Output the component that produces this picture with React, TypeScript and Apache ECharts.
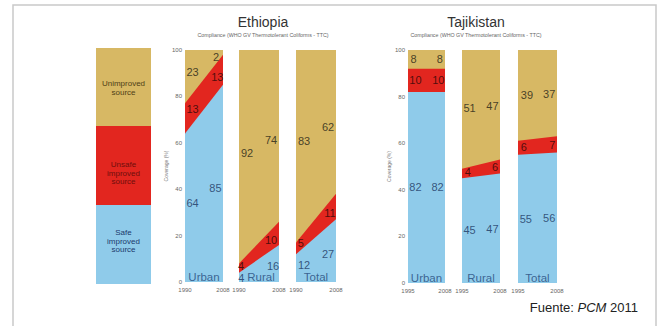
import React, { useEffect, useRef } from "react";
import * as echarts from "echarts";

// ---- Data ----
const panelNames = ["Urban", "Rural", "Total"];
const ethYears = [1990, 2008];
const tjkYears = [1995, 2008];
// [start, end] per panel: Urban, Rural, Total
const ethSafe = [[64, 85], [4, 16], [12, 27]];
const ethUnsafe = [[13, 13], [4, 10], [5, 11]];
const ethUnimproved = [[23, 2], [92, 74], [83, 62]];
const tjkSafe = [[82, 82], [45, 47], [55, 56]];
const tjkUnsafe = [[10, 10], [4, 6], [6, 7]];
const tjkUnimproved = [[8, 8], [51, 47], [39, 37]];
const yTicks = [0, 20, 40, 60, 80, 100];
const countries = ["Ethiopia", "Tajikistan"];
const subtitle = "Compliance (WHO GV Thermotolerant Coliforms - TTC)";
const legendLabels = ["Unimproved\nsource", "Unsafe\nimproved\nsource", "Safe\nimproved\nsource"];

// ---- Styles / layout ----
const COLORS: Record<string, string> = { safe: "#8fcbea", unsafe: "#e2261f", unimp: "#d7b864" };
const LABEL_COLORS: Record<string, string> = { safe: "#1b3560", unsafe: "#2a0707", unimp: "#222014" };
const PANELS = [
  { c: 0, p: 0, left: 185, width: 38 },
  { c: 0, p: 1, left: 239, width: 40 },
  { c: 0, p: 2, left: 296, width: 40 },
  { c: 1, p: 0, left: 408, width: 37 },
  { c: 1, p: 1, left: 462, width: 38 },
  { c: 1, p: 2, left: 518, width: 39 },
];
const TOP = 50;
const HEIGHT = 232;
// label horizontal fraction overrides: key c-p-band-side
const LABEL_F: Record<string, { f?: number; y?: number }> = {
  "0-0-unsafe-1": { f: 0.85 },
  "0-0-unimp-1": { f: 0.82 },
  "0-1-unsafe-0": { f: 0.05 },
  "0-1-safe-0": { f: 0.06, y: 1.8 },
  "0-1-safe-1": { f: 0.85 },
  "0-1-unsafe-1": { f: 0.8 },
  "0-2-unsafe-0": { f: 0.12 },
  "0-2-unsafe-1": { f: 0.85 },
  "1-0-unimp-0": { f: 0.15 },
  "1-0-unimp-1": { f: 0.86 },
  "1-0-unsafe-0": { f: 0.2 },
  "1-0-unsafe-1": { f: 0.82 },
  "1-1-unsafe-0": { f: 0.15 },
  "1-1-unsafe-1": { f: 0.87 },
  "1-2-unsafe-0": { f: 0.15 },
  "1-2-unsafe-1": { f: 0.88 },
  "1-2-unimp-0": { f: 0.23 },
};

function buildOption() {
  const grid: any[] = [];
  const xAxis: any[] = [];
  const yAxis: any[] = [];
  const series: any[] = [];

  PANELS.forEach((pn, i) => {
    const years = pn.c === 0 ? ethYears : tjkYears;
    const safe = (pn.c === 0 ? ethSafe : tjkSafe)[pn.p];
    const unsafe = (pn.c === 0 ? ethUnsafe : tjkUnsafe)[pn.p];
    const unimp = (pn.c === 0 ? ethUnimproved : tjkUnimproved)[pn.p];
    const first = pn.p === 0;
    grid.push({ left: pn.left, top: TOP, width: pn.width, height: HEIGHT + (pn.c === 1 ? 1 : 0) });
    xAxis.push({
      gridIndex: i,
      type: "value",
      min: years[0],
      max: years[1],
      splitLine: { show: false },
      axisLine: { show: false },
      axisTick: { show: false },
      axisLabel: {
        customValues: years,
        formatter: (v: number) => String(v),
        fontSize: 6,
        color: "#666",
        margin: 5,
        fontFamily: "Liberation Sans",
      },
    });
    yAxis.push({
      gridIndex: i,
      type: "value",
      min: 0,
      max: 100,
      interval: 20,
      show: first,
      splitLine: { show: false },
      axisLine: { show: false },
      axisTick: { show: false },
      axisLabel: { fontSize: 6, color: "#666", margin: 3, fontFamily: "Liberation Sans", customValues: yTicks },
      name: first ? "Coverage (%)" : "",
      nameLocation: "middle",
      nameRotate: 90,
      nameGap: 14,
      nameTextStyle: { fontSize: 5, color: "#777", fontFamily: "Liberation Sans" },
    });
    const bands = [
      { key: "safe", vals: safe },
      { key: "unsafe", vals: unsafe },
      { key: "unimp", vals: unimp },
    ];
    // cumulative tops, drawn from the top band down so lower bands overlay
    const cum: number[][] = [];
    let acc = [0, 0];
    bands.forEach((b) => {
      acc = [acc[0] + b.vals[0], acc[1] + b.vals[1]];
      cum.push(acc.slice());
    });
    for (let k = bands.length - 1; k >= 0; k--) {
      const b = bands[k];
      series.push({
        type: "line",
        xAxisIndex: i,
        yAxisIndex: i,
        symbol: "none",
        lineStyle: { width: 0 },
        areaStyle: { color: COLORS[b.key], opacity: 1, origin: "start" },
        color: COLORS[b.key],
        data: [
          [years[0], cum[k][0]],
          [years[1], cum[k][1]],
        ],
        z: 2 + (bands.length - k),
      });
    }
    // labels
    const labelData: any[] = [];
    let lowerStart = 0;
    let lowerEnd = 0;
    bands.forEach((b) => {
      const upperStart = lowerStart + b.vals[0];
      const upperEnd = lowerEnd + b.vals[1];
      [0, 1].forEach((side) => {
        const ov = LABEL_F[`${pn.c}-${pn.p}-${b.key}-${side}`] || {};
        const f = ov.f !== undefined ? ov.f : side === 0 ? 0.2 : 0.8;
        const lo = lowerStart + (lowerEnd - lowerStart) * f;
        const hi = upperStart + (upperEnd - upperStart) * f;
        const y = ov.y !== undefined ? ov.y : (lo + hi) / 2;
        const x = years[0] + (years[1] - years[0]) * f;
        labelData.push({
          value: [x, y],
          label: { formatter: String(b.vals[side]), color: LABEL_COLORS[b.key] },
        });
      });
      lowerStart = upperStart;
      lowerEnd = upperEnd;
    });
    // panel name
    const nameX = years[0] + (years[1] - years[0]) * (pn.c === 0 && pn.p === 1 ? 0.55 : 0.5);
    labelData.push({
      value: [nameX, 2.2],
      label: { formatter: panelNames[pn.p], color: "#25497a", fontSize: 11.5 },
    });
    series.push({
      type: "scatter",
      xAxisIndex: i,
      yAxisIndex: i,
      symbol: "circle",
      symbolSize: 1,
      itemStyle: { color: "rgba(0,0,0,0)" },
      silent: true,
      z: 10,
      label: {
        show: true,
        position: "inside",
        fontSize: 11,
        fontFamily: "Liberation Sans",
        align: "center",
        verticalAlign: "middle",
      },
      data: labelData,
    });
  });

  const graphic: any[] = [
    {
      type: "rect",
      shape: { x: 13, y: 5, width: 643, height: 340 },
      style: { fill: "none", stroke: "#c9c9c9", lineWidth: 1.5 },
      z: 0,
    },
  ];
  // Titles
  const titleX = [263, 476];
  countries.forEach((c, i) => {
    graphic.push({
      type: "text",
      x: titleX[i],
      y: 22,
      style: {
        text: c,
        font: "14px 'Liberation Sans'",
        fill: "#333",
        textAlign: "center",
        textVerticalAlign: "middle",
      },
    });
    graphic.push({
      type: "text",
      x: titleX[i],
      y: 35,
      style: {
        text: subtitle,
        font: "5.3px 'Liberation Sans'",
        fill: "#666",
        textAlign: "center",
        textVerticalAlign: "middle",
      },
    });
  });
  // Legend blocks
  const legend = [
    { y: 48, h: 78, color: COLORS.unimp, tc: "#4f4016", ty: 88 },
    { y: 126, h: 79, color: COLORS.unsafe, tc: "#6e0e0c", ty: 173 },
    { y: 205, h: 79, color: COLORS.safe, tc: "#1b3a6c", ty: 241 },
  ];
  legend.forEach((l, i) => {
    graphic.push({
      type: "rect",
      shape: { x: 96, y: l.y, width: 55, height: l.h },
      style: { fill: l.color },
    });
    graphic.push({
      type: "text",
      x: 123.5,
      y: l.ty,
      style: {
        text: legendLabels[i],
        font: "8px 'Liberation Sans'",
        lineHeight: 8.5,
        fill: l.tc,
        textAlign: "center",
        textVerticalAlign: "middle",
      },
      z: 3,
    });
  });
  // Source
  graphic.push({
    type: "text",
    x: 638,
    y: 307,
    style: {
      text: "{n|Fuente: }{i|PCM}{n| 2011}",
      textAlign: "right",
      textVerticalAlign: "middle",
      rich: {
        n: { fontSize: 13, fontFamily: "Liberation Sans", fill: "#222", color: "#222" },
        i: { fontSize: 13, fontFamily: "Liberation Sans", fontStyle: "italic", fill: "#222", color: "#222" },
      },
    },
  });

  return {
    animation: false,
    backgroundColor: "#ffffff",
    grid,
    xAxis,
    yAxis,
    series,
    graphic,
  };
}

export default function App() {
  const ref = useRef<HTMLDivElement>(null);
  useEffect(() => {
    if (!ref.current) return;
    const chart = echarts.init(ref.current, undefined, { renderer: "svg" });
    chart.setOption(buildOption() as any);
    return () => chart.dispose();
  }, []);
  return (
    <div
      ref={ref}
      style={{ position: "absolute", left: 0, top: 0, width: 659, height: 326 }}
    />
  );
}
